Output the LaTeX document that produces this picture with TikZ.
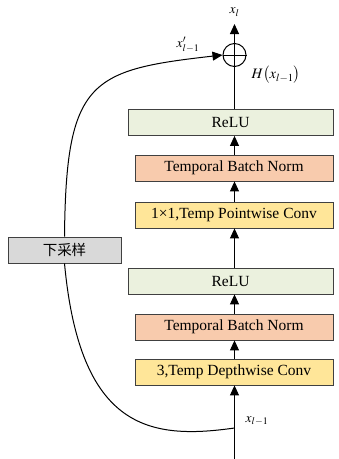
\documentclass[tikz,border=0pt]{standalone}
\usepackage{mathptmx}
\usepackage{fontspec}
\setmainfont{Liberation Serif}
\newfontfamily\cjk{Noto Sans CJK SC}
\usetikzlibrary{arrows.meta}
\definecolor{cgreen}{HTML}{EBF1DE}
\definecolor{corange}{HTML}{F8CBAD}
\definecolor{cyellow}{HTML}{FFE699}
\definecolor{cgray}{HTML}{D9D9D9}
\definecolor{cborder}{HTML}{404040}
\tikzset{
  blk/.style={draw=cborder, line width=0.8pt, inner sep=0pt, minimum height=26pt,
    font=\fontsize{15.5}{17}\selectfont},
  arr/.style={line width=1pt, -{Triangle[width=9pt,length=10pt]}},
  ln/.style={line width=1pt},
  lbl/.style={inner sep=0pt, font=\fontsize{13.5}{15}\selectfont},
}
\begin{document}
\begin{tikzpicture}[x=1pt,y=-1pt]
\useasboundingbox (0,0) rectangle (339,459);
% boxes
\node[blk, fill=cgreen, minimum width=205pt] (relu1) at (230.5,122.5) {ReLU};
\node[blk, fill=corange, minimum width=198pt] (tbn1) at (234,168) {Temporal Batch Norm};
\node[blk, fill=cyellow, minimum width=198pt] (pw) at (234,215) {1×1,Temp Pointwise Conv};
\node[blk, fill=cgreen, minimum width=205pt] (relu2) at (230.5,281) {ReLU};
\node[blk, fill=corange, minimum width=198pt] (tbn2) at (234,327) {Temporal Batch Norm};
\node[blk, fill=cyellow, minimum width=198pt] (dw) at (234,372) {3,Temp Depthwise Conv};
\node[blk, fill=cgray, minimum width=113pt, font=\cjk\fontsize{14.5}{16}\selectfont] (ds) at (64.5,250) {下采样};
% sum
\node[draw, line width=1pt, circle, minimum size=23pt, inner sep=0pt] (circ) at (234.5,55) {};
\draw[ln] (circ.north) -- (circ.south) (circ.west) -- (circ.east);
\coordinate (top) at (234.5,24);
\coordinate (bot) at (234.5,459);
\coordinate (br) at (234.5,428);
% labels
\node[lbl] (lxl) at (234.5,12) {$x_l$};
\node[lbl] (lxp) at (188,45) {$x'_{l-1}$};
\node[lbl, font=\fontsize{14.5}{16}\selectfont] (lh) at (276,75) {$H\bigl(x_{l-1}\bigr)$};
\node[lbl] (lxb) at (257,421) {$x_{l-1}$};
% main path
\draw[arr] (bot) -- (dw.south -| bot);
\draw[arr] (dw.north -| bot) -- (tbn2.south -| bot);
\draw[arr] (tbn2.north -| bot) -- (relu2.south -| bot);
\draw[arr] (relu2.north -| bot) -- (pw.south -| bot);
\draw[arr] (pw.north -| bot) -- (tbn1.south -| bot);
\draw[arr] (tbn1.north -| bot) -- (relu1.south -| bot);
\draw[ln] (relu1.north -| bot) -- (circ.south);
\draw[arr] (circ.north) -- (top);
% shortcut
\draw[ln] (br) .. controls (150,440) and (80,430) .. (ds.south);
\draw[arr] (ds.north) .. controls (66,80) and (90,70) .. (circ.west);
\end{tikzpicture}
\end{document}
